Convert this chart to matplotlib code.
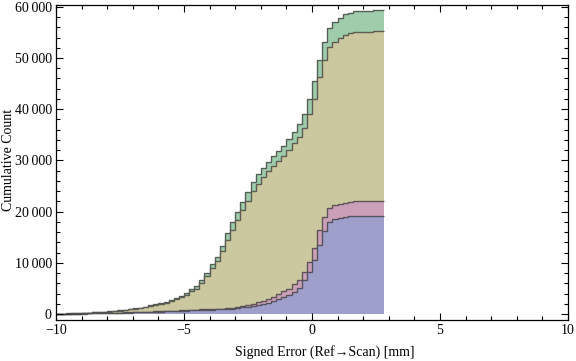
import numpy as np
import matplotlib
matplotlib.use("Agg")
import matplotlib.pyplot as plt
from matplotlib.ticker import MultipleLocator, FuncFormatter

# Bin edges: -10 .. 2.8 step 0.2 (64 bins)
bin_start = -10.0
bin_width = 0.2
n_bins = 64

# Cumulative counts per bin for each of the four data sets
green_cum = [50, 70, 100, 130, 160, 200, 260, 330, 390, 460,
             520, 650, 720, 850, 980, 1110, 1240, 1430, 1690, 1890,
             2150, 2410, 2730, 3120, 3520, 4040, 4820, 5400, 6720, 8100,
             9720, 11200, 13350, 15750, 17900, 19980, 21940, 23890, 25840, 27280,
             28580, 29750, 30860, 31830, 32870, 34110, 35600, 37070, 39000, 41960,
             45430, 49700, 53200, 55800, 57000, 57900, 58500, 58850, 59100, 59100,
             59150, 59150, 59370, 59370]
khaki_cum = [45, 65, 90, 120, 150, 185, 240, 305, 360, 425,
             480, 600, 665, 785, 900, 1020, 1140, 1310, 1550, 1740,
             1970, 2210, 2500, 2860, 3230, 3700, 4400, 4950, 6150, 7400,
             8900, 10300, 12300, 14400, 16400, 18400, 20300, 22100, 24000, 25400,
             26700, 27900, 28900, 29900, 30900, 32000, 33400, 34600, 36300, 39000,
             42000, 46200, 49700, 52100, 53200, 54000, 54500, 54900, 55100, 55100,
             55150, 55150, 55200, 55200]
pink_cum = [25, 38, 55, 72, 90, 108, 130, 152, 175, 198,
            222, 250, 278, 306, 335, 368, 402, 436, 470, 504,
            540, 575, 620, 665, 710, 755, 800, 845, 890, 935,
            980, 1010, 1040, 1110, 1240, 1370, 1560, 1760, 2020, 2280,
            2600, 2930, 3390, 3840, 4490, 4880, 5790, 6640, 8200, 10090,
            12850, 16500, 18900, 20700, 21200, 21500, 21750, 21900, 21980, 21980,
            21980, 21980, 21980, 21980]
blue_cum = [20, 30, 45, 60, 75, 90, 110, 130, 150, 170,
            190, 215, 240, 265, 290, 320, 350, 380, 410, 440,
            470, 500, 540, 580, 620, 660, 700, 740, 780, 820,
            860, 890, 910, 980, 1070, 1170, 1300, 1430, 1560, 1760,
            1950, 2210, 2470, 2860, 3250, 3710, 4230, 5010, 6640, 8200,
            10500, 13500, 16300, 17900, 18500, 18800, 19000, 19100, 19140, 19140,
            19140, 19140, 19140, 19140]

series = [green_cum, khaki_cum, pink_cum, blue_cum]
colors = ["#9fccaa", "#cbc79f", "#cc9fb8", "#9f9fcc"]

x_ticks_major = [-10, -5, 0, 5, 10]
y_ticks_major = [0, 10000, 20000, 30000, 40000, 50000, 60000]

edges = bin_start + bin_width * np.arange(n_bins + 1)

plt.rcParams['font.family'] = ['Liberation Serif', 'DejaVu Serif']
fig = plt.figure(figsize=(5.76, 3.61), dpi=100)
ax = fig.add_axes([56/576, 1 - 320/361, 512/576, 315/361])

for vals, col in zip(series, colors):
    ax.stairs(vals, edges, fill=True, baseline=0, color=col, linewidth=0)
    ax.stairs(vals, edges, baseline=None, color="#3a3a3a", alpha=0.75, linewidth=1.0)

ax.set_xlim(-10, 10)
ax.set_ylim(-1170, 60350)

ax.set_xticks(x_ticks_major)
ax.set_yticks(y_ticks_major)
ax.xaxis.set_minor_locator(MultipleLocator(1))
ax.yaxis.set_minor_locator(MultipleLocator(2000))

def xfmt(v, p):
    v = int(round(v))
    return ("\u2212%d" % -v) if v < 0 else "%d" % v

def yfmt(v, p):
    v = int(round(v))
    if v >= 10000:
        s = "%d" % v
        return s[:-3] + "\u2009" + s[-3:]
    return "%d" % v

ax.xaxis.set_major_formatter(FuncFormatter(xfmt))
ax.yaxis.set_major_formatter(FuncFormatter(yfmt))

ax.tick_params(which='both', direction='in', top=True, right=True,
               labelsize=10, colors='black', width=0.8, pad=3)
ax.tick_params(which='major', length=5)
ax.tick_params(which='minor', length=3)
for s in ax.spines.values():
    s.set_linewidth(0.9)

ax.set_xlabel("Signed Error (Ref\u2192Scan) [mm]", fontsize=10, va='center')
ax.set_ylabel("Cumulative Count", fontsize=10, va='center')
ax.xaxis.set_label_coords((325 - 56) / 512, (320 - 352) / 315)
ax.yaxis.set_label_coords((9 - 56) / 512, (320 - 160) / 315)

fig.savefig("out.png", dpi=100)
